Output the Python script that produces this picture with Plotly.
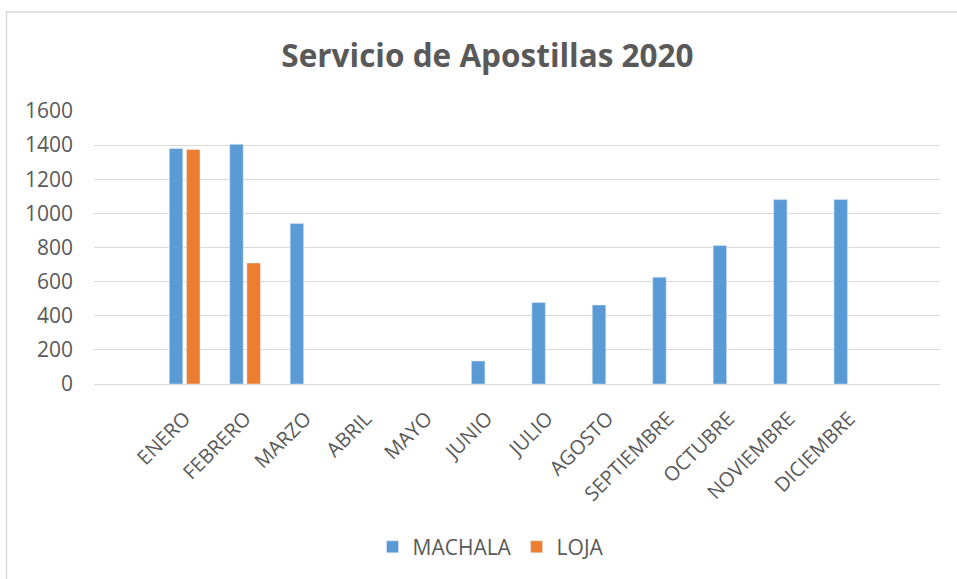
import plotly.graph_objects as go

meses = ["ENERO", "FEBRERO", "MARZO", "ABRIL", "MAYO", "JUNIO", "JULIO",
         "AGOSTO", "SEPTIEMBRE", "OCTUBRE", "NOVIEMBRE", "DICIEMBRE"]
machala = [1380, 1405, 940, None, None, 135, 478, 463, 626, 812, 1081, 1081]
loja = [1375, 709, None, None, None, None, None, None, None, None, None, None]
y_ticks = [0, 200, 400, 600, 800, 1000, 1200, 1400, 1600]

TXT = "#595959"
GRID = "#D9D9D9"
FONT = "Open Sans"

fig = go.Figure()
fig.add_trace(go.Bar(x=meses, y=machala, name="MACHALA", marker_color="#5B9BD5"))
fig.add_trace(go.Bar(x=meses, y=loja, name="LOJA", marker_color="#ED7D31"))

L, R, T, B = 94, 17, 111, 192
W, H = 957, 579
pw, ph = W - L - R, H - T - B

def px_x(p):
    return (p - L) / pw

def px_y(p):
    return (H - B - p) / ph

fig.update_layout(
    width=W, height=H,
    margin=dict(l=L, r=R, t=T, b=B, pad=0),
    paper_bgcolor="white", plot_bgcolor="white",
    barmode="group", bargap=0.43, bargroupgap=0.215,
    font=dict(family=FONT, color=TXT, size=20),
    title=dict(text="<b>Servicio de Apostillas 2020</b>",
               font=dict(family=FONT, size=31.5, color=TXT),
               x=px_x(487.5), xref="paper", xanchor="center",
               y=1 - 56 / H, yref="container", yanchor="middle"),
    showlegend=True,
    legend=dict(orientation="h", x=px_x(491), xanchor="center",
                y=px_y(552), yanchor="middle",
                font=dict(family=FONT, size=21, color=TXT),
                itemwidth=30, traceorder="normal"),
    shapes=[dict(type="rect", xref="paper", yref="paper",
                 x0=px_x(6.5), x1=px_x(970), y0=px_y(600), y1=px_y(11),
                 line=dict(color="#D9D9D9", width=1.5), fillcolor="rgba(0,0,0,0)",
                 layer="below")],
)

fig.update_xaxes(
    type="category", range=[-1.5, 12.5],
    showgrid=False, showline=True, linecolor=GRID, linewidth=1,
    ticks="", tickangle=-45,
    tickfont=dict(family=FONT, size=20, color=TXT),
    ticklabelstandoff=14,
)
fig.update_yaxes(
    range=[0, 1600], tickvals=y_ticks,
    showgrid=True, gridcolor=GRID, gridwidth=1,
    zeroline=True, zerolinecolor=GRID, zerolinewidth=1,
    showline=False, ticks="",
    tickfont=dict(family=FONT, size=21, color=TXT),
    ticklabelstandoff=20,
)

fig.write_html("out.html", config={"displayModeBar": False},
               post_script="document.body.style.margin='0px';")
